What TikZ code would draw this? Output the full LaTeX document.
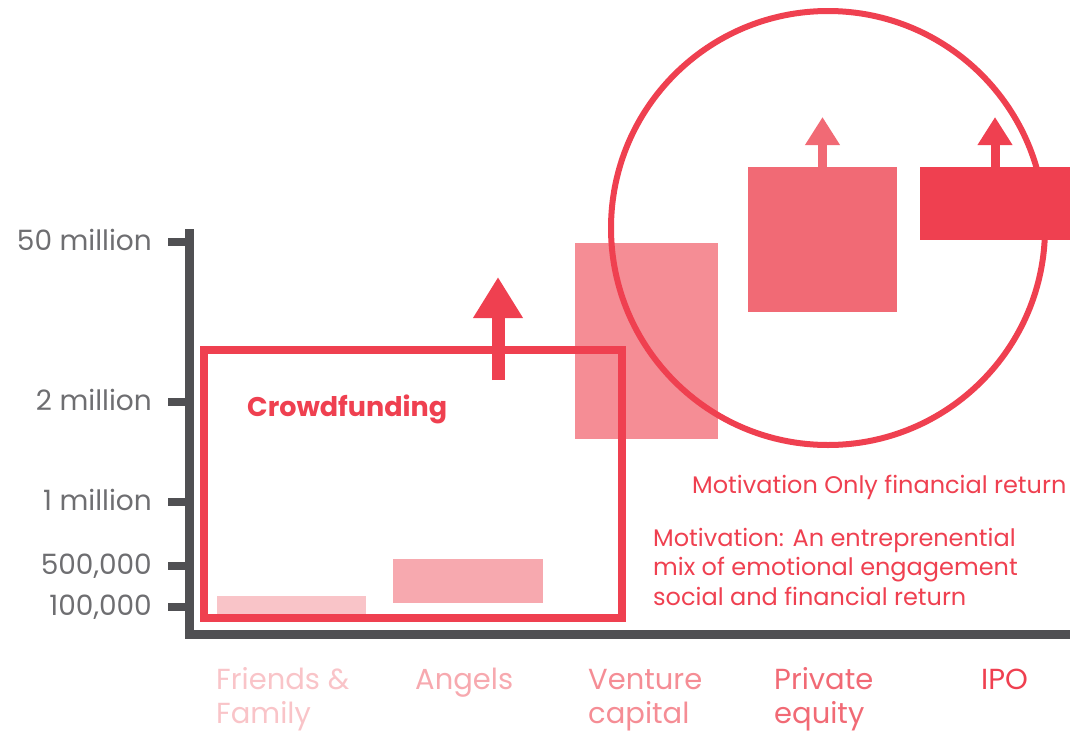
\documentclass[tikz,border=0pt]{standalone}
\usepackage{fontspec}
\setmainfont{Poppins}
\usepackage{tikz}
\usetikzlibrary{arrows.meta}
\definecolor{axisgray}{HTML}{505053}
\definecolor{labelgray}{HTML}{6E6E71}
\definecolor{ffpink}{HTML}{F9C4C8}
\definecolor{angpink}{HTML}{F7A9AF}
\definecolor{vcpink}{HTML}{F58D95}
\definecolor{pepink}{HTML}{F16A75}
\definecolor{ipored}{HTML}{EF4050}
\newcommand*\ylabelfont{\fontsize{28}{32}\selectfont}
\newcommand*\catfont{\fontsize{29}{34}\selectfont}

\begin{document}
\begin{tikzpicture}[x=1pt,y=-1pt,
		bar/.style={shape=rectangle,inner sep=0pt,outer sep=0pt,anchor=north west},
		bigup/.style={line width=13pt,-{Triangle[length=41pt,width=47pt]}},
		smallup/.style={line width=9pt,-{Triangle[length=28pt,width=33pt]}},
		ylab/.style={anchor=base east,text=labelgray,font=\ylabelfont,inner sep=0pt},
		catlab/.style={anchor=base west,align=left,font=\catfont,inner sep=0pt},
		motive/.style={anchor=base west,align=left,text=ipored,font=\fontsize{24}{29.5}\selectfont,inner sep=0pt}]
					\useasboundingbox (0,0) rectangle (1070,731);
					
					\node (ff) [bar,fill=ffpink,minimum width=149pt,minimum height=18pt] at (217,596) {};
					\node (ang) [bar,fill=angpink,minimum width=150pt,minimum height=44pt] at (393,559) {};
					\node (vc) [bar,fill=vcpink,minimum width=143pt,minimum height=196pt] at (575,243) {};
					\node (pe) [bar,fill=pepink,minimum width=149pt,minimum height=145pt] at (748,167) {};
					
					\node (crowd) [shape=rectangle,draw=ipored,line width=8pt,minimum width=418pt,minimum height=268pt] at (413,484) {};
					\node (cap) [shape=circle,draw=ipored,line width=6pt,minimum size=434pt] at (828,228) {};
					\node (ipo) [bar,fill=ipored,minimum width=150pt,minimum height=73pt] at (920,167) {};
					
					\draw[axisgray,line width=9pt] (189,229) -- (189,634) -- (1070,634);
					\foreach \yy/\txt in {242/50 million,402/2 million,502/1 million,566/{500,000},607/{100,000}}{
						\draw[axisgray,line width=8pt] (168,\yy) -- (189,\yy);
						\node[ylab] at (152,\yy+8) {\txt};
					}
					
					\coordinate (cfbase) at (498,380);
					\coordinate (cftip) at (498,277);
					\coordinate (petip) at (822.5,117);
					\coordinate (ipotip) at (995,117);
					\draw[bigup,ipored] (cfbase) -- (cftip);
					\draw[smallup,pepink] (pe.north) -- (petip);
					\draw[smallup,ipored] (ipo.north) -- (ipotip);
					
					\node (cflabel) [anchor=base west,text=ipored,inner sep=0pt,font=\fontsize{27}{30}\bfseries] at (247,416) {Crowdfunding};
					\node (onlyfin) [motive] at (692,493) {Motivation Only financial return};
					\node (mixed) [motive] at (653,605) {Motivation: An entreprenential\\mix of emotional engagement\\social and financial return};
					
					\node (fflab) [catlab,text=ffpink] at (216,723) {Friends \&\\Family};
					\node (anglab) [catlab,text=angpink] at (415,689) {Angels};
					\node (vclab) [catlab,text=vcpink] at (588,723) {Venture\\capital};
					\node (pelab) [catlab,text=pepink] at (774,723) {Private\\equity};
					\node (ipolab) [catlab,text=ipored] at (981,689) {IPO};
\end{tikzpicture}
\end{document}
